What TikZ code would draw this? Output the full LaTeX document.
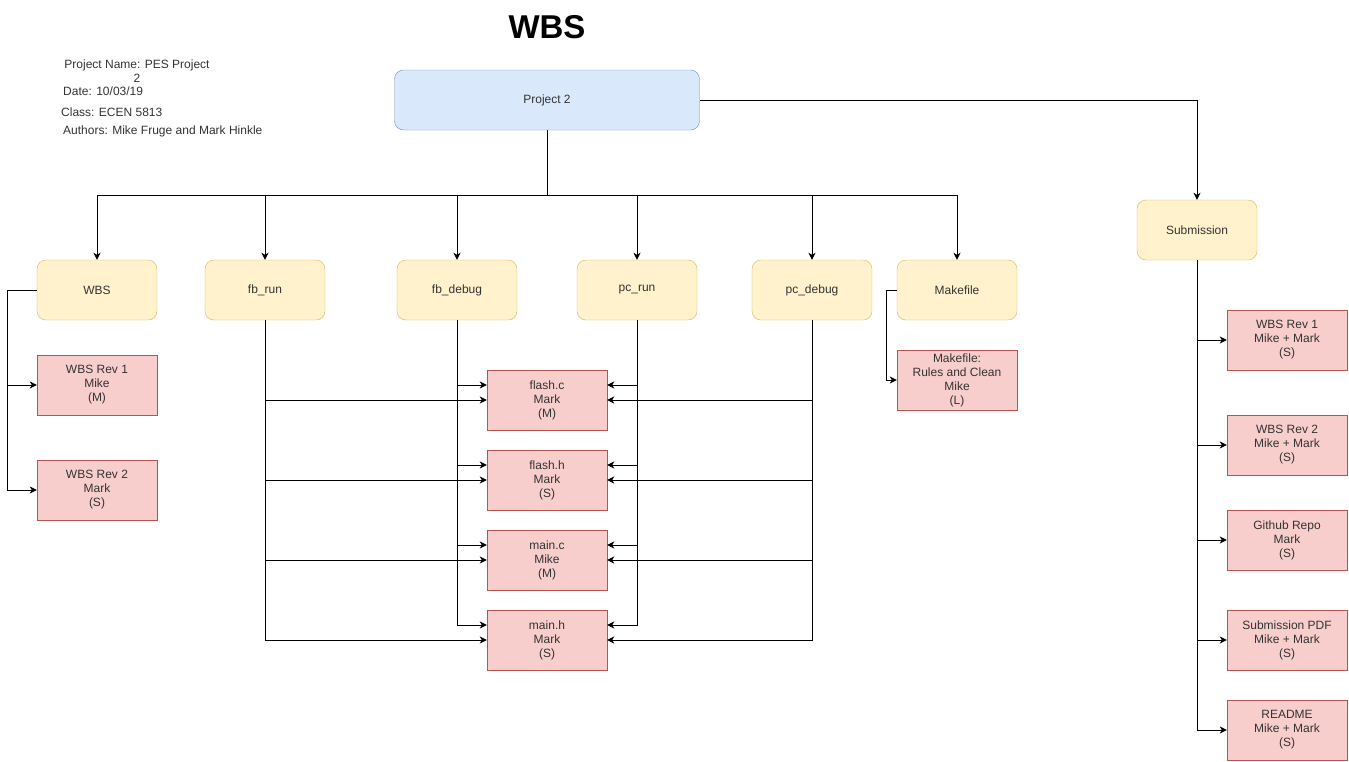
\documentclass[tikz,border=0pt]{standalone}
\usepackage{fontspec}
\setmainfont{Liberation Sans}
\usepackage{tikz}
\usetikzlibrary{arrows.meta}
\definecolor{projfill}{HTML}{DAE8FC}
\definecolor{projdraw}{HTML}{6C8EBF}
\definecolor{taskfill}{HTML}{FFF2CC}
\definecolor{taskdraw}{HTML}{D6B656}
\definecolor{itemfill}{HTML}{F8CECC}
\definecolor{itemdraw}{HTML}{B85450}
\definecolor{txt}{HTML}{333333}
\tikzset{
  root/.style={draw=projdraw,fill=projfill,rounded corners=9pt,minimum width=305pt,minimum height=60pt,text=txt,font=\fontsize{12}{14}\selectfont},
  task/.style={draw=taskdraw,fill=taskfill,rounded corners=9pt,minimum width=120pt,minimum height=60pt,text=txt,font=\fontsize{12}{14}\selectfont},
  item/.style={draw=itemdraw,fill=itemfill,minimum width=120pt,minimum height=60pt,align=center,text=txt,font=\fontsize{12}{14}\selectfont},
  info/.style={anchor=west,inner sep=0pt,font=\fontsize{12}{14}\selectfont,text=txt},
  link/.style={draw=black,line width=1pt,-{Stealth[length=7pt,width=7pt,inset=2pt]}},
}

\begin{document}
\begin{tikzpicture}[x=1pt,y=-1pt]
            \useasboundingbox (0,0) rectangle (1349,761);
                % title and info
                \node[font=\fontsize{33}{36}\selectfont\bfseries] (title) at (547,27) {WBS};
                \node[align=center,inner sep=0pt,font=\fontsize{12}{14}\selectfont,text=txt] (pname) at (137,71) {Project Name: PES Project\\2};
                \node[info] (date) at (63,91) {Date: 10/03/19};
                \node[info] (class) at (61,112) {Class: ECEN 5813};
                \node[info] (authors) at (63,131) {Authors: Mike Fruge and Mark Hinkle};
                % nodes
                \node[root] (proj) at (547,100) {Project 2};
                \node[task] (wbs) at (97,290) {WBS};
                \node[task] (fbrun) at (265,290) {fb\_run};
                \node[task] (fbdebug) at (457,290) {fb\_debug};
                \node[task] (pcrun) at (637,290) {pc\_run};
                \node[task] (pcdebug) at (812,290) {pc\_debug};
                \node[task] (make) at (957,290) {Makefile};
                \node[task] (sub) at (1197,230) {Submission};
                \node[item] (wbsa) at (97,385) {WBS Rev 1\\Mike\\(M)};
                \node[item] (wbsb) at (97,490) {WBS Rev 2\\Mark\\(S)};
                \node[item] (flashc) at (547,400) {flash.c\\Mark\\(M)};
                \node[item] (flashh) at (547,480) {flash.h\\Mark\\(S)};
                \node[item] (mainc) at (547,560) {main.c\\Mike\\(M)};
                \node[item] (mainh) at (547,640) {main.h\\Mark\\(S)};
                \node[item] (makea) at (957,380) {Makefile:\\Rules and Clean\\Mike\\(L)};
                \node[item] (suba) at (1287,340) {WBS Rev 1\\Mike + Mark\\(S)};
                \node[item] (subb) at (1287,445) {WBS Rev 2\\Mike + Mark\\(S)};
                \node[item] (subc) at (1287,540) {Github Repo\\Mark\\(S)};
                \node[item] (subd) at (1287,640) {Submission PDF\\Mike + Mark\\(S)};
                \node[item] (sube) at (1287,730) {README\\Mike + Mark\\(S)};
                \coordinate (bus) at (547,195);
                % connectors
                \foreach \t in {wbs,fbrun,fbdebug,pcrun,pcdebug,make}
                    \draw[link] (proj.south) -- (bus) -| (\t.north);
                \draw[link] (proj.east) -| (sub.north);
                \foreach \t in {wbsa,wbsb}
                    \draw[link] (wbs.west) -- ++(-29,0) |- (\t.west);
                \foreach \t in {flashc,flashh,mainc,mainh} {
                    \draw[link] (fbrun.south) |- (\t.west);
                    \draw[link] (fbdebug.south) |- ([yshift=15pt]\t.west);
                    \draw[link] (pcrun.south) |- ([yshift=15pt]\t.east);
                    \draw[link] (pcdebug.south) |- (\t.east);
                }
                \draw[link] (make.west) -- ++(-10,0) |- (makea.west);
                \foreach \t in {suba,subb,subc,subd,sube}
                    \draw[link] (sub.south) |- (\t.west);
        \end{tikzpicture}
\end{document}
